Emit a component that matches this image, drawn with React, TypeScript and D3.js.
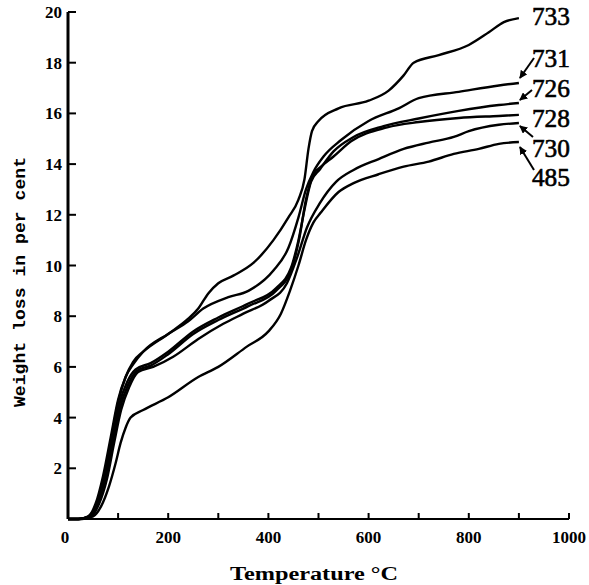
import * as React from "react";
import * as d3 from "d3";

// temperature (°C) / weight loss (%), one list per sample
const s733 = [
  [0, 0], [20, 0], [40, 0.1], [55, 0.5], [70, 1.5], [85, 3.0], [100, 4.6], [115, 5.6],
  [130, 6.2], [150, 6.6], [200, 7.3], [240, 7.9], [260, 8.3], [280, 8.9], [300, 9.3],
  [330, 9.6], [370, 10.1], [410, 11.0], [440, 11.9], [460, 12.6], [472, 13.4], [480, 14.6],
  [487, 15.3], [500, 15.7], [540, 16.2], [600, 16.5], [640, 16.9], [670, 17.5], [690, 18.0],
  [740, 18.3], [800, 18.7], [840, 19.2], [870, 19.6], [900, 19.76],
];
const s731 = [
  [0, 0], [20, 0], [40, 0.1], [55, 0.6], [70, 1.7], [85, 3.2], [100, 4.7], [115, 5.6],
  [130, 6.1], [150, 6.6], [200, 7.3], [240, 7.8], [270, 8.3], [320, 8.75], [360, 9.0],
  [410, 9.8], [440, 10.7], [460, 11.9], [475, 13.0], [490, 13.7], [510, 14.3], [545, 14.95],
  [600, 15.7], [660, 16.2], [700, 16.6], [780, 16.85], [860, 17.1], [900, 17.2],
];
const s726 = [
  [0, 0], [22, 0], [42, 0.1], [58, 0.6], [72, 1.6], [88, 3.1], [102, 4.5], [118, 5.4],
  [135, 5.9], [165, 6.15], [200, 6.6], [250, 7.4], [300, 7.95], [360, 8.5], [415, 9.1],
  [445, 9.9], [460, 11.0], [472, 12.2], [485, 13.3], [503, 13.8], [530, 14.5], [570, 15.07],
  [630, 15.5], [700, 15.8], [780, 16.1], [860, 16.33], [900, 16.41],
];
const s728 = [
  [0, 0], [22, 0], [44, 0.1], [60, 0.6], [74, 1.5], [90, 3.0], [104, 4.4], [120, 5.3],
  [138, 5.85], [165, 6.05], [200, 6.5], [250, 7.3], [300, 7.85], [360, 8.4], [415, 9.0],
  [445, 9.8], [462, 11.1], [475, 12.6], [490, 13.6], [505, 13.9], [530, 14.3], [565, 14.9],
  [637, 15.45], [700, 15.66], [780, 15.82], [860, 15.9], [900, 15.94],
];
const s730 = [
  [0, 0], [24, 0], [46, 0.1], [62, 0.6], [78, 1.6], [92, 3.0], [106, 4.3], [122, 5.2],
  [140, 5.8], [170, 6.0], [210, 6.4], [260, 7.1], [310, 7.7], [350, 8.1], [400, 8.6],
  [437, 9.3], [457, 10.3], [477, 11.5], [503, 12.47], [535, 13.3], [570, 13.77], [620, 14.2],
  [670, 14.6], [720, 14.85], [770, 15.07], [800, 15.3], [860, 15.55], [900, 15.62],
];
const s485 = [
  [0, 0], [28, 0], [50, 0.1], [66, 0.5], [82, 1.3], [95, 2.2], [105, 3.0], [115, 3.6],
  [125, 4.0], [150, 4.3], [200, 4.8], [260, 5.6], [300, 6.0], [357, 6.8], [400, 7.4],
  [425, 8.1], [443, 9.0], [460, 10.0], [475, 11.0], [490, 11.7], [505, 12.1], [540, 12.9],
  [570, 13.25], [620, 13.6], [670, 13.9], [720, 14.1], [770, 14.4], [820, 14.6], [860, 14.8],
  [900, 14.87],
];

const sampleNames = ["733", "731", "726", "728", "730", "485"];
const sampleData = [s733, s731, s726, s728, s730, s485];

const xTicks = d3.range(0, 1001, 100);
const xTickLabels = [0, 200, 400, 600, 800, 1000];
const yTicks = d3.range(2, 21, 2);

export default function App() {
  const width = 589;
  const height = 585;

  const x = d3.scaleLinear().domain([0, 1000]).range([68, 569]);
  const y = d3.scaleLinear().domain([0, 20]).range([519, 12]);

  const line = d3
    .line<number[]>()
    .x((d) => x(d[0]))
    .y((d) => y(d[1]))
    .curve(d3.curveMonotoneX);

  // label baselines, top to bottom, next to the line ends
  const labelY = [25, 67, 97, 127, 157, 186];
  const labelX = x(900) + 13;

  // arrows from a label to the end of its line
  const arrows = [
    { i: 1, from: [534, 58], dy: 5 },
    { i: 2, from: [532, 90], dy: 3 },
    { i: 4, from: [533, 137], dy: 3 },
    { i: 5, from: [534, 170], dy: 5 },
  ];

  const serif = "'Liberation Serif', 'DejaVu Serif', serif";

  return (
    <svg
      width={width}
      height={height}
      style={{ position: "absolute", left: 0, top: 0, background: "#fff" }}
    >
      <defs>
        <marker
          id="head"
          viewBox="0 0 10 10"
          refX="9"
          refY="5"
          markerWidth="4"
          markerHeight="4"
          orient="auto"
        >
          <path d="M0,0 L10,5 L0,10 z" fill="#000" />
        </marker>
      </defs>

      {/* axes */}
      <line x1={x(0)} x2={x(0)} y1={y(0)} y2={y(20)} stroke="#000" strokeWidth={3} />
      <line x1={x(0)} x2={x(1000)} y1={y(0)} y2={y(0)} stroke="#000" strokeWidth={2} />
      {yTicks.map((t) => (
        <g key={"y" + t}>
          <line x1={x(0)} x2={x(0) + 8} y1={y(t)} y2={y(t)} stroke="#000" strokeWidth={2} />
          <text
            x={x(0) - 6}
            y={y(t) + 6}
            textAnchor="end"
            fontFamily={serif}
            fontWeight="bold"
            fontSize={17}
          >
            {t}
          </text>
        </g>
      ))}
      {xTicks.map((t) =>
        t === 0 ? null : (
          <line
            key={"x" + t}
            x1={x(t)}
            x2={x(t)}
            y1={y(0)}
            y2={y(0) - 6}
            stroke="#000"
            strokeWidth={2}
          />
        )
      )}
      {xTickLabels.map((t) => (
        <text
          key={"xl" + t}
          x={t === 0 ? x(t) - 3 : x(t)}
          y={543}
          textAnchor="middle"
          fontFamily={serif}
          fontWeight="bold"
          fontSize={17}
        >
          {t}
        </text>
      ))}

      <text
        x={314}
        y={580}
        textAnchor="middle"
        fontFamily={serif}
        fontWeight="bold"
        fontSize={18}
        textLength={168}
        lengthAdjust="spacingAndGlyphs"
      >
        Temperature °C
      </text>
      <text
        transform="translate(25,282) rotate(-90)"
        textAnchor="middle"
        fontFamily="'Liberation Mono', 'DejaVu Sans Mono', monospace"
        fontWeight="bold"
        fontSize={17}
        textLength={250}
        lengthAdjust="spacingAndGlyphs"
      >
        Weight loss in per cent
      </text>

      {/* curves */}
      {sampleData.map((s, i) => (
        <path
          key={sampleNames[i]}
          d={line(s) || ""}
          fill="none"
          stroke="#000"
          strokeWidth={2.4}
          strokeLinejoin="round"
        />
      ))}

      {/* labels */}
      {sampleNames.map((n, i) => (
        <text
          key={"lab" + n}
          x={labelX}
          y={labelY[i]}
          fontFamily={serif}
          fontSize={25}
          stroke="#000"
          strokeWidth={0.6}
          textLength={38}
          lengthAdjust="spacingAndGlyphs"
        >
          {n}
        </text>
      ))}
      {arrows.map((a) => {
        const s = sampleData[a.i];
        const end = s[s.length - 1];
        const tx = x(end[0]) + 1;
        const ty = y(end[1]) + (a.from[1] < y(end[1]) ? -a.dy : a.dy);
        return (
          <line
            key={"ar" + a.i}
            x1={a.from[0]}
            y1={a.from[1]}
            x2={tx}
            y2={ty}
            stroke="#000"
            strokeWidth={2}
            markerEnd="url(#head)"
          />
        );
      })}
    </svg>
  );
}
